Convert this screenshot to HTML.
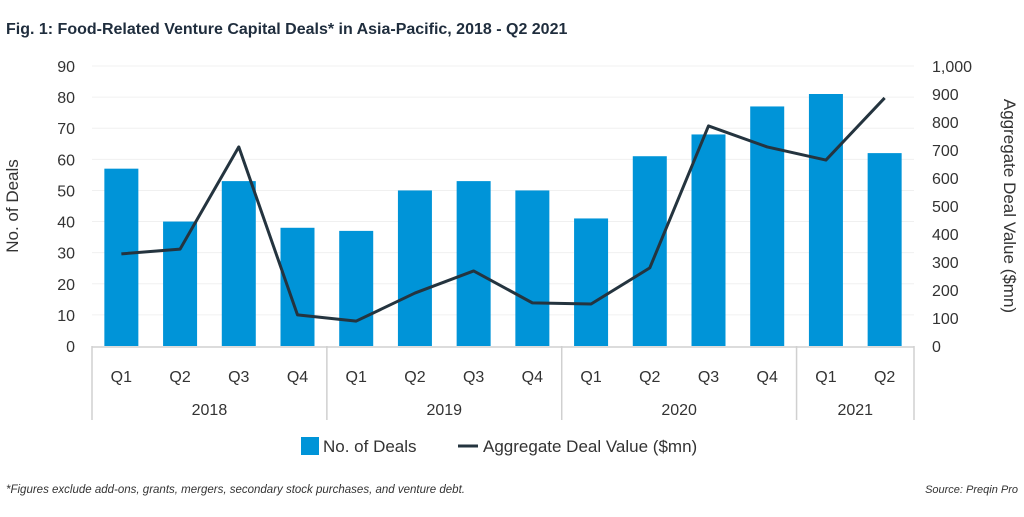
<!DOCTYPE html>
<html><head><meta charset="utf-8"><style>
body{margin:0;background:#fff;width:1024px;height:512px;overflow:hidden;font-family:"Liberation Sans",sans-serif}
svg text{font-family:"Liberation Sans",sans-serif}
</style></head><body>
<svg id="c" width="1024" height="512">
<text x="6" y="34" font-size="16" font-weight="bold" fill="#1f2d3d">Fig. 1: Food-Related Venture Capital Deals* in Asia-Pacific, 2018 - Q2 2021</text>
<text x="18" y="206" font-size="17" fill="#333" transform="rotate(-90 18 206)" text-anchor="middle">No. of Deals</text>
<text x="1004" y="206" font-size="17" fill="#333" transform="rotate(90 1004 206)" text-anchor="middle">Aggregate Deal Value ($mn)</text>
<g id="grid"></g><g id="bars"></g><g id="line"></g><g id="axes"></g>
<g>
<rect x="301" y="437" width="18" height="18" fill="#0094d8"/>
<text x="323" y="452" font-size="17" fill="#333">No. of Deals</text>
<line x1="458" y1="446" x2="478" y2="446" stroke="#24343f" stroke-width="3"/>
<text x="483" y="452" font-size="17" fill="#333">Aggregate Deal Value ($mn)</text>
</g>
<text x="6" y="493" font-size="11.5" font-style="italic" fill="#333">*Figures exclude add-ons, grants, mergers, secondary stock purchases, and venture debt.</text>
<text x="1018" y="493" font-size="11" font-style="italic" fill="#333" text-anchor="end">Source: Preqin Pro</text>
</svg>
<script>
const quarters=["Q1","Q2","Q3","Q4","Q1","Q2","Q3","Q4","Q1","Q2","Q3","Q4","Q1","Q2"];
const years=["2018","2019","2020","2021"];
const yearCounts=[4,4,4,2];
const deals=[57,40,53,38,37,50,53,50,41,61,68,77,81,62];
const values=[329,346,711,111,89,189,268,154,150,279,786,711,664,886];
const leftTicks=[0,10,20,30,40,50,60,70,80,90];
const rightTicks=["0","100","200","300","400","500","600","700","800","900","1,000"];
const NS="http://www.w3.org/2000/svg";
const X0=92,X1=914,Y0=346,Y1=66,bw=(X1-X0)/quarters.length;
const yL=v=>Y0-(v/90)*(Y0-Y1), yR=v=>Y0-(v/1000)*(Y0-Y1), xC=i=>X0+bw*(i+0.5);
function mk(p,tag,a){const e=document.createElementNS(NS,tag);for(const k in a)e.setAttribute(k,a[k]);document.getElementById(p).appendChild(e);return e;}
leftTicks.forEach((t,i)=>{
 if(i>0){const g=mk("grid","line",{x1:X0,x2:X1,y1:yL(t),y2:yL(t),stroke:"#f0f0f0"});
 
 }
 const e=mk("axes","text",{x:75,y:yL(t)+6,"font-size":16,fill:"#333","text-anchor":"end"});e.textContent=t;
 
 
});
rightTicks.forEach((t,i)=>{
 const e=mk("axes","text",{x:932,y:yR(i*100)+6,"font-size":16,fill:"#333"});e.textContent=t;
 
 
});
deals.forEach((v,i)=>{
 const r=mk("bars","rect",{x:xC(i)-17,y:yL(v),width:34,height:Y0-yL(v),fill:"#0094d8"});
 
 
});
const pl=mk("line","polyline",{points:values.map((v,i)=>xC(i)+","+yR(v)).join(" "),fill:"none",stroke:"#24343f","stroke-width":3,"stroke-linejoin":"round"});


const ax=mk("axes","line",{x1:X0,x2:X1,y1:Y0+1,y2:Y0+1,stroke:"#d0d0d0","stroke-width":1.5});


quarters.forEach((q,i)=>{
 const e=mk("axes","text",{x:xC(i),y:382,"font-size":16,fill:"#333","text-anchor":"middle"});e.textContent=q;
 
 
});
let s=0;
const sep0=mk("axes","line",{x1:X0,x2:X0,y1:Y0,y2:420,stroke:"#d0d0d0","stroke-width":1.5});


years.forEach((y,k)=>{
 const a=X0+s*bw;s+=yearCounts[k];const b=X0+s*bw;
 const e=mk("axes","text",{x:(a+b)/2,y:415,"font-size":16,fill:"#333","text-anchor":"middle"});e.textContent=y;
 
 
 const l=mk("axes","line",{x1:b,x2:b,y1:Y0,y2:420,stroke:"#d0d0d0","stroke-width":1.5});
 
 
});
</script>
</body></html>
